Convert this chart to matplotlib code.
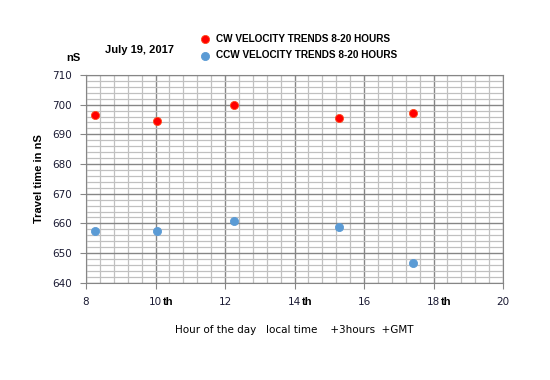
import matplotlib.pyplot as plt
from matplotlib.ticker import MultipleLocator
from matplotlib.transforms import blended_transform_factory

# data
hours = [8.26, 10.03, 12.26, 15.28, 17.41]
cw_ns = [696.5, 694.5, 699.9, 695.5, 697.2]
ccw_ns = [657.5, 657.4, 660.8, 658.9, 646.7]
x_ticks = [8, 10, 12, 14, 16, 18, 20]
th_ticks = [10, 14, 18]
y_ticks = [640, 650, 660, 670, 680, 690, 700, 710]


def main():
    plt.rcParams['font.family'] = ['DejaVu Sans']
    bold_font = {'family': 'Liberation Sans', 'weight': 'bold'}
    fig = plt.figure(figsize=(5.5, 3.8), dpi=100)
    ax = fig.add_axes([0.1564, 0.256, 0.7582, 0.5466])

    ax.set_xlim(8, 20)
    ax.set_ylim(640, 710)
    ax.xaxis.set_minor_locator(MultipleLocator(0.4))
    ax.yaxis.set_minor_locator(MultipleLocator(2))
    ax.set_xticks(x_ticks)
    ax.set_yticks(y_ticks)

    ax.grid(which='minor', color='#c0c0c0', lw=0.9)
    ax.grid(which='major', color='#868686', lw=1.0)
    ax.set_axisbelow(True)
    for s in ax.spines.values():
        s.set_color('#868686')
    ax.tick_params(which='major', length=4, color='#868686',
                   labelsize=7.5, labelcolor='#1a1a33', pad=6)
    ax.tick_params(which='minor', length=0)

    ax.scatter(hours, cw_ns, s=34, color='#ff0000', edgecolors='#ff4a1a',
               linewidths=0.6, zorder=3,
               label='CW VELOCITY TRENDS 8-20 HOURS')
    ax.scatter(hours, ccw_ns, s=34, color='#5b9bd5', edgecolors='#5b9bd5',
               linewidths=0.6, zorder=3,
               label='CCW VELOCITY TRENDS 8-20 HOURS')

    # bold "th" after some hour labels
    trans = blended_transform_factory(ax.transData, ax.transAxes)
    for t in th_ticks:
        ax.annotate('th', xy=(t, 0), xycoords=trans, xytext=(5, -10),
                    textcoords='offset points', ha='left', va='top',
                    fontsize=8, color='black', **bold_font)

    ax.set_xlabel('Hour of the day   local time    +3hours  +GMT',
                  fontsize=7.5, labelpad=13)
    ax.set_ylabel('Travel time in nS', fontsize=8, labelpad=6, **bold_font)

    fig.text(140 / 550, 1 - 50 / 380, 'July 19, 2017', fontsize=8,
             ha='center', va='center', **bold_font)
    fig.text(73.5 / 550, 1 - 58 / 380, 'nS', fontsize=8,
             ha='center', va='center', **bold_font)

    ax.legend(loc='upper left', bbox_to_anchor=(200 / 550, 1 - 34 / 380),
              bbox_transform=fig.transFigure, frameon=False,
              prop={'family': 'Liberation Sans', 'weight': 'bold',
                    'size': 7.2},
              handletextpad=0.55, borderpad=0, labelspacing=0.65,
              handlelength=1.0, borderaxespad=0)

    fig.savefig('out.png', dpi=100)


if __name__ == "__main__":
    main()
